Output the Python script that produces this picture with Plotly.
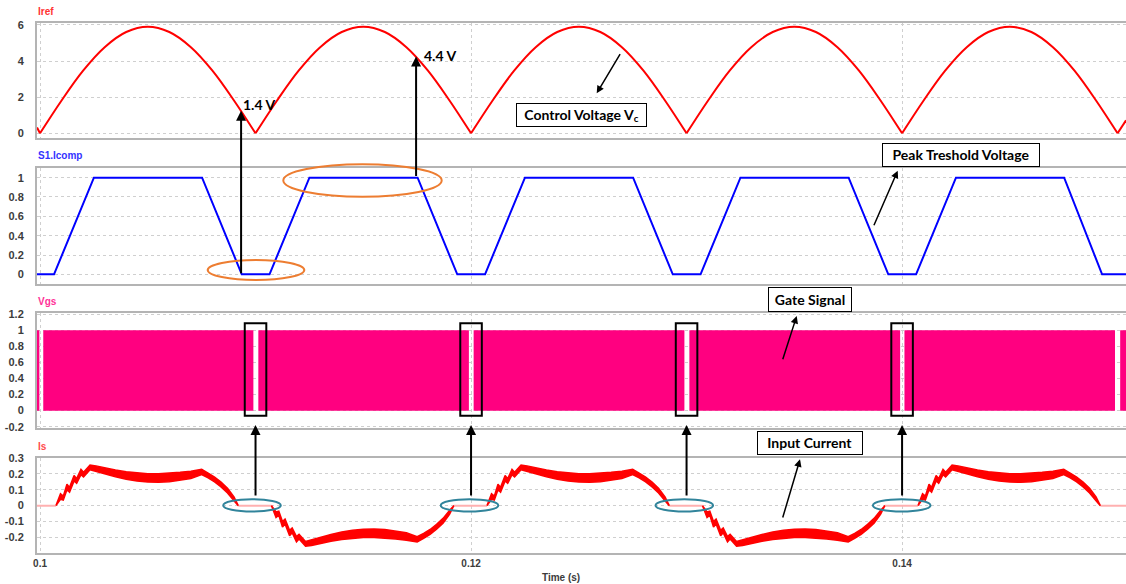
import plotly.graph_objects as go

W, H = 1126, 584
ML = 37

# ---------------- data ----------------
x_start, x_end = 0.09986, 0.15039
x_ticks = [0.10, 0.12, 0.14]
x_tick_labels = ["0.1", "0.12", "0.14"]

# Iref: rectified control voltage, one 10 ms half-cycle sampled every 1 ms
iref_half_offsets = [0.000, 0.001, 0.002, 0.003, 0.004, 0.005, 0.006, 0.007, 0.008, 0.009, 0.010]
iref_half_values = [0.0, 1.82, 3.47, 4.77, 5.61, 5.90, 5.61, 4.77, 3.47, 1.82, 0.0]
iref_cycle_starts = [0.10, 0.11, 0.12, 0.13, 0.14]
iref_lead_t, iref_lead_v = [0.09986, 0.10], [0.32, 0.0]
iref_tail_t, iref_tail_v = [0.15, 0.15039], [0.0, 0.72]
iref_ticks = [0, 2, 4, 6]

# S1.Icomp: trapezoidal peak-threshold signal (breakpoints)
icomp_t = [0.09986, 0.10065, 0.10250, 0.10752, 0.10936, 0.11065, 0.11250, 0.11752,
           0.11936, 0.12065, 0.12250, 0.12752, 0.12936, 0.13065, 0.13250, 0.13752,
           0.13936, 0.14065, 0.14250, 0.14752, 0.14928, 0.15039]
icomp_v = [0, 0, 1, 1, 0, 0, 1, 1, 0, 0, 1, 1, 0, 0, 1, 1, 0, 0, 1, 1, 0, 0]
icomp_ticks = [0, 0.2, 0.4, 0.6, 0.8, 1]

# Vgs: gate signal, on (1) except in short gaps around the zero crossings
vgs_gap_start = [0.09997, 0.10990, 0.11990, 0.12990, 0.13991, 0.14988]
vgs_gap_end = [0.10015, 0.11013, 0.12012, 0.13013, 0.14011, 0.15012]
vgs_ticks = [-0.2, 0, 0.2, 0.4, 0.6, 0.8, 1, 1.2]

# Is: input current band for one half-cycle (offset from half-cycle start, upper / lower edge)
is_offsets = [0.00074, 0.00095, 0.00108, 0.00125, 0.00137, 0.00158, 0.00170, 0.00190,
              0.00202, 0.00232, 0.0026, 0.0030, 0.0035, 0.0040, 0.0045, 0.0050, 0.0055,
              0.0060, 0.0065, 0.0070, 0.0075, 0.0078, 0.0081, 0.0084, 0.0087, 0.0090, 0.0092]
is_upper = [0.0, 0.075, 0.060, 0.135, 0.115, 0.190, 0.170, 0.228, 0.210, 0.255,
            0.250, 0.238, 0.224, 0.213, 0.205, 0.201, 0.201, 0.204, 0.210, 0.217, 0.228,
            0.205, 0.180, 0.148, 0.110, 0.055, 0.0]
is_lower = [0.0, 0.040, 0.035, 0.100, 0.085, 0.155, 0.140, 0.195, 0.180, 0.225,
            0.218, 0.202, 0.182, 0.166, 0.155, 0.148, 0.147, 0.150, 0.158, 0.170, 0.195,
            0.175, 0.150, 0.118, 0.080, 0.030, 0.0]
is_cycle_starts = [0.10, 0.11, 0.12, 0.13, 0.14]
is_cycle_signs = [1, -1, 1, -1, 1]
is_ticks = [-0.2, -0.1, 0, 0.1, 0.2, 0.3]

marker_gaps = [0.11, 0.12, 0.13, 0.14]

# ---------------- helpers ----------------
def pxx(x):
    return (x - ML) / (W - ML)

def pxy(y):
    return 1 - y / H

# ---------------- build series ----------------
iref_x, iref_y = list(iref_lead_t) + [None], list(iref_lead_v) + [None]
for c in iref_cycle_starts:
    iref_x += [c + o for o in iref_half_offsets] + [None]
    iref_y += list(iref_half_values) + [None]
iref_x += iref_tail_t
iref_y += iref_tail_v

vgs_x, vgs_y = [x_start], [1]
for a, b in zip(vgs_gap_start, vgs_gap_end):
    vgs_x += [a, b]
    vgs_y += [0, 1]
vgs_x.append(x_end)
vgs_y.append(1)

is_x, is_y = [], []
for c, s in zip(is_cycle_starts, is_cycle_signs):
    is_x += [c + o for o in is_offsets] + [c + o for o in reversed(is_offsets)] + [None]
    is_y += [s * v for v in is_upper] + [s * v for v in reversed(is_lower)] + [None]

zero_x, zero_y = [x_start, is_cycle_starts[0] + is_offsets[0], None], [0, 0, None]
for c, cn in zip(is_cycle_starts[:-1], is_cycle_starts[1:]):
    zero_x += [c + is_offsets[-1], cn + is_offsets[0], None]
    zero_y += [0, 0, None]
zero_x += [is_cycle_starts[-1] + is_offsets[-1], x_end]
zero_y += [0, 0]

# ---------------- figure ----------------
fig = go.Figure()
fig.add_trace(go.Scatter(x=iref_x, y=iref_y, mode="lines", line=dict(color="#FF0000", width=2, shape="spline"),
                         xaxis="x", yaxis="y", connectgaps=False, hoverinfo="skip"))
fig.add_trace(go.Scatter(x=icomp_t, y=icomp_v, mode="lines", line=dict(color="#0000FF", width=2),
                         xaxis="x2", yaxis="y2", hoverinfo="skip"))
fig.add_trace(go.Scatter(x=vgs_x, y=vgs_y, mode="lines", line=dict(color="#FF0080", width=0, shape="hv"),
                         fill="tozeroy", fillcolor="#FF0080", xaxis="x3", yaxis="y3", hoverinfo="skip"))
fig.add_trace(go.Scatter(x=zero_x, y=zero_y, mode="lines", line=dict(color="#FFB0B0", width=2),
                         xaxis="x4", yaxis="y4", connectgaps=False, hoverinfo="skip"))
fig.add_trace(go.Scatter(x=is_x, y=is_y, mode="lines", line=dict(color="#FF0000", width=1.5),
                         fill="toself", fillcolor="#FF0000", xaxis="x4", yaxis="y4",
                         connectgaps=False, hoverinfo="skip"))

tickfont = dict(family="Liberation Sans, Arial", size=11, color="#3c3c3c", weight="bold")
frame = "#b4b4b4"
grid = "#cfcfcf"

domains = [
    (pxy(138), pxy(23)),
    (pxy(284), pxy(167.7)),
    (pxy(428.3), pxy(312.7)),
    (pxy(552.7), pxy(457.7)),
]
yranges = [(-0.26, 6.11), (-0.1, 1.103), (-0.22, 1.22), (-0.296, 0.3015)]
yticks = [iref_ticks, icomp_ticks, vgs_ticks, is_ticks]

layout = dict(
    width=W, height=H,
    margin=dict(l=ML, r=0, t=0, b=0, autoexpand=False),
    paper_bgcolor="white", plot_bgcolor="white",
    showlegend=False,
)
for i in range(4):
    sx = "" if i == 0 else str(i + 1)
    layout["xaxis" + sx] = dict(
        domain=[0, 1], anchor="y" + sx, range=[x_start, x_end],
        tickvals=x_ticks, ticktext=x_tick_labels, showticklabels=(i == 3),
        tickfont=dict(family="Liberation Sans, Arial", size=10, color="#3c3c3c", weight="bold"),
        showgrid=True, gridcolor=grid, griddash="dot", gridwidth=1,
        showline=True, mirror=True, linecolor=frame, linewidth=2,
        zeroline=False, ticks="", fixedrange=True,
    )
    ticks = yticks[i]
    layout["yaxis" + sx] = dict(
        domain=list(domains[i]), anchor="x" + sx, range=list(yranges[i]),
        tickvals=ticks, ticktext=[("%g" % t) for t in ticks], tickfont=tickfont,
        showgrid=True, gridcolor=grid, griddash="dot", gridwidth=1,
        showline=True, mirror=False, linecolor=frame, linewidth=2,
        zeroline=False, ticks="", ticklabelstandoff=9, fixedrange=True,
    )
fig.update_layout(**layout)

ann = []
# panel titles
for txt, col, y in [("Iref", "#FF3333", 11.7), ("S1.Icomp", "#3333FF", 156),
                    ("Vgs", "#FF3399", 301.7), ("Is", "#FF4D4D", 446)]:
    ann.append(dict(text=txt, xref="paper", yref="paper", x=pxx(36), y=pxy(y), xanchor="left",
                    yanchor="middle", showarrow=False,
                    font=dict(family="Liberation Sans, Arial", size=10, color=col, weight="bold")))
ann.append(dict(text="Time (s)", xref="paper", yref="paper", x=pxx(561), y=pxy(577), xanchor="center",
                yanchor="middle", showarrow=False,
                font=dict(family="Liberation Sans, Arial", size=10, color="#3c3c3c", weight="bold")))

lab_font = dict(family="Lato, Open Sans, sans-serif", size=14, color="black", weight="bold")
ann.append(dict(text="1.4 V", xref="paper", yref="paper", x=pxx(241), y=pxy(104.5), xanchor="left",
                yanchor="middle", showarrow=False, font=lab_font))
ann.append(dict(text="4.4 V", xref="paper", yref="paper", x=pxx(422), y=pxy(55.5), xanchor="left",
                yanchor="middle", showarrow=False, font=lab_font))

# vertical arrows from comparator panel to Iref
arrow = dict(showarrow=True, arrowhead=2, arrowsize=1, arrowwidth=2, arrowcolor="black", text="",
             axref="pixel", ayref="pixel")
ann.append(dict(arrow, xref="x", yref="y", x=0.10933, y=1.25, ax=0, ay=164))
ann.append(dict(arrow, xref="x", yref="y", x=0.11745, y=4.25, ax=0, ay=121))

# boxes with labels
for txt, cx, cy, w, h in [("Control Voltage V<sub>c</sub>", 581.5, 115.3, 131, 24),
                          ("Peak Treshold Voltage", 961.2, 155, 158, 23.5),
                          ("Gate Signal", 810.2, 299.5, 84, 24.5),
                          ("Input Current", 810, 442.5, 105.5, 23.5)]:
    ann.append(dict(text=txt, xref="paper", yref="paper", x=pxx(cx), y=pxy(cy), xanchor="center",
                    yanchor="middle", showarrow=False, font=lab_font, bgcolor="white",
                    bordercolor="black", borderwidth=1, borderpad=0, width=w - 2, height=h - 2))

# pointer arrows for the labels (head position in px, tail offset in px)
for hx, hy, tx, ty in [(596.7, 93.3, 621, 52.7), (897.7, 170.7, 873.3, 226.7),
                       (796.7, 316, 782.3, 360.7), (800, 459.3, 782.3, 519)]:
    ann.append(dict(arrow, xref="paper", yref="paper", x=pxx(hx), y=pxy(hy), ax=tx - hx, ay=ty - hy,
                    arrowwidth=1.5))

# arrows from Is zero intervals up to gate-signal gaps
for g in marker_gaps:
    ann.append(dict(arrow, xref="x4", yref="paper", x=g, y=pxy(425), ax=0, ay=72))

shapes = []
for g in marker_gaps:
    shapes.append(dict(type="rect", xref="x3", yref="y3", x0=g - 0.0005, x1=g + 0.0005, y0=-0.064, y1=1.09,
                       line=dict(color="black", width=2)))
orange = "#ED7D31"
for x0, x1, y0, y1 in [(207.7, 304.3, 260, 280), (283.3, 441.7, 164.3, 196.7)]:
    shapes.append(dict(type="circle", xref="paper", yref="paper", x0=pxx(x0), x1=pxx(x1),
                       y0=pxy(y1), y1=pxy(y0), line=dict(color=orange, width=2)))
teal = "#31849B"
for cx in [252, 469.5, 684.3, 901.7]:
    shapes.append(dict(type="circle", xref="paper", yref="paper", x0=pxx(cx - 28.8), x1=pxx(cx + 28.8),
                       y0=pxy(511.5), y1=pxy(499.3), line=dict(color=teal, width=2)))

fig.update_layout(annotations=ann, shapes=shapes)
fig.write_html("out.html", config={"displayModeBar": False},
               post_script="document.body.style.margin='0';document.body.style.overflow='hidden';")
